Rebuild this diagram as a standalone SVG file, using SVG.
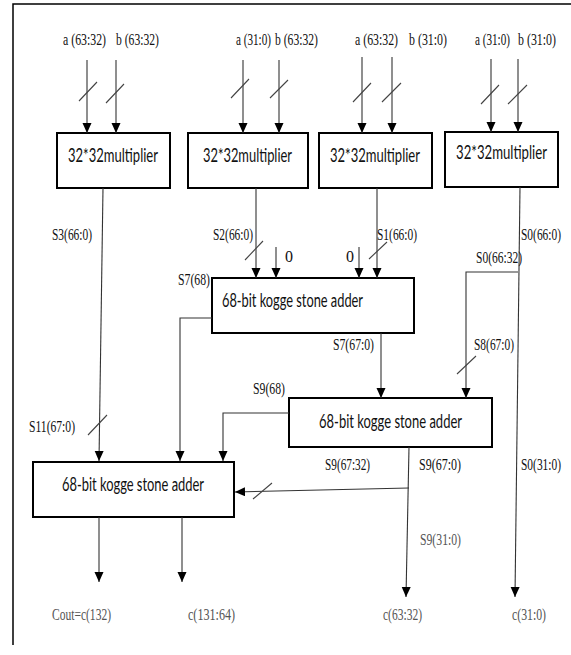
<svg xmlns="http://www.w3.org/2000/svg" width="571" height="655" viewBox="0 0 571 655">
<style>
.box{fill:#fff;stroke:#000;stroke-width:2}
.ln{fill:none;stroke:#333;stroke-width:1.1}
.ar{marker-end:url(#ah)}
.sl{fill:none;stroke:#444;stroke-width:1.1}
.lb{font-family:"Liberation Serif",serif;font-size:16px;fill:#111}
.fd{fill:#555}
.bt{font-family:Lato,"Liberation Sans",sans-serif;font-size:18.5px;fill:#111}
</style>
<defs>
<marker id="ah" markerUnits="userSpaceOnUse" markerWidth="10" markerHeight="10" refX="10" refY="4.5" orient="auto">
<path d="M0,0 L10,4.5 L0,9 z" fill="#000"/>
</marker>
</defs>
<rect width="571" height="655" fill="#fff"/>
<path d="M13,645 V4 H571" fill="none" stroke="#000" stroke-width="1.5"/>

<g id="inputs">
<text class="lb" x="63" y="45" textLength="43" lengthAdjust="spacingAndGlyphs">a (63:32)</text>
<text class="lb" x="116" y="45" textLength="43" lengthAdjust="spacingAndGlyphs">b (63:32)</text>
<text class="lb" x="236" y="45" textLength="35" lengthAdjust="spacingAndGlyphs">a (31:0)</text>
<text class="lb" x="275" y="45" textLength="43" lengthAdjust="spacingAndGlyphs">b (63:32)</text>
<text class="lb" x="355" y="45" textLength="43" lengthAdjust="spacingAndGlyphs">a (63:32)</text>
<text class="lb" x="409" y="45" textLength="38" lengthAdjust="spacingAndGlyphs">b (31:0)</text>
<text class="lb" x="475" y="45" textLength="35" lengthAdjust="spacingAndGlyphs">a (31:0)</text>
<text class="lb" x="518" y="45" textLength="38" lengthAdjust="spacingAndGlyphs">b (31:0)</text>
</g>

<g id="mult1"><rect class="box" x="57" y="133" width="113" height="55"/>
<text class="bt" x="68" y="162" textLength="90" lengthAdjust="spacingAndGlyphs">32*32multiplier</text></g>
<g id="mult2"><rect class="box" x="188" y="133" width="120" height="55"/>
<text class="bt" x="203" y="162" textLength="89" lengthAdjust="spacingAndGlyphs">32*32multiplier</text></g>
<g id="mult3"><rect class="box" x="319" y="133" width="113" height="55"/>
<text class="bt" x="330" y="162" textLength="90" lengthAdjust="spacingAndGlyphs">32*32multiplier</text></g>
<g id="mult4"><rect class="box" x="445" y="132" width="113" height="55"/>
<text class="bt" x="456" y="159" textLength="91" lengthAdjust="spacingAndGlyphs">32*32multiplier</text></g>

<g id="adder1"><rect class="box" x="212" y="278" width="202" height="55"/>
<text class="bt" x="222" y="307" textLength="141" lengthAdjust="spacingAndGlyphs">68-bit kogge stone adder</text></g>
<g id="adder2"><rect class="box" x="289" y="398" width="203" height="49"/>
<text class="bt" x="319" y="428" textLength="143" lengthAdjust="spacingAndGlyphs">68-bit kogge stone adder</text></g>
<g id="adder3"><rect class="box" x="33" y="462" width="201" height="55"/>
<text class="bt" x="62" y="491" textLength="142" lengthAdjust="spacingAndGlyphs">68-bit kogge stone adder</text></g>

<g id="connectors">
<path class="ln ar" d="M87,60 V133"/>
<path class="ln ar" d="M116,60 V133"/>
<path class="ln ar" d="M243,60 V133"/>
<path class="ln ar" d="M279,60 V133"/>
<path class="ln ar" d="M362,57 V133"/>
<path class="ln ar" d="M392,57 V133"/>
<path class="ln ar" d="M491,59 V132"/>
<path class="ln ar" d="M518,59 V132"/>
<path class="sl" d="M79,101 L97,82 M106,103 L124,84 M231,98 L249,79 M270,98 L288,80 M353,102 L371,83 M382,102 L401,83 M481,104 L499,85 M508,104 L527,85"/>

<path class="ln ar" d="M103,188 L99,461"/>
<path class="ln ar" d="M256,188 V278"/>
<path class="ln ar" d="M276,247 V278"/>
<path class="ln ar" d="M377,188 V278"/>
<path class="ln ar" d="M359,247 V278"/>
<path class="ln ar" d="M520,187 L515,597"/>
<path class="ln ar" d="M518,272 H466 V398"/>
<path class="ln ar" d="M212,318 H180 V461"/>
<path class="ln ar" d="M381,333 V398"/>
<path class="ln ar" d="M289,413 H223 V461"/>
<path class="ln ar" d="M409,447 L406,597"/>
<path class="ln ar" d="M409,488 L235,492"/>
<path class="ln ar" d="M99,517 V582"/>
<path class="ln ar" d="M182,517 V582"/>
<path class="sl" d="M245,260 L263,241 M369,259 L387,242 M457,374 L476,356 M88,435 L107,415 M253,499 L272,483"/>
</g>

<g id="labels">
<text class="lb" x="52" y="240" textLength="40" lengthAdjust="spacingAndGlyphs">S3(66:0)</text>
<text class="lb" x="213" y="240" textLength="40" lengthAdjust="spacingAndGlyphs">S2(66:0)</text>
<text class="lb" x="377" y="240" textLength="40" lengthAdjust="spacingAndGlyphs">S1(66:0)</text>
<text class="lb" x="521" y="240" textLength="40" lengthAdjust="spacingAndGlyphs">S0(66:0)</text>
<text class="lb" x="285" y="262">0</text>
<text class="lb" x="346" y="262">0</text>
<text class="lb" x="476" y="263" textLength="46" lengthAdjust="spacingAndGlyphs">S0(66:32)</text>
<text class="lb" x="178" y="285" textLength="32" lengthAdjust="spacingAndGlyphs">S7(68)</text>
<text class="lb" x="333" y="350" textLength="41" lengthAdjust="spacingAndGlyphs">S7(67:0)</text>
<text class="lb" x="474" y="350" textLength="40" lengthAdjust="spacingAndGlyphs">S8(67:0)</text>
<text class="lb" x="253" y="394" textLength="32" lengthAdjust="spacingAndGlyphs">S9(68)</text>
<text class="lb" x="29" y="432" textLength="46" lengthAdjust="spacingAndGlyphs">S11(67:0)</text>
<text class="lb" x="325" y="470" textLength="45" lengthAdjust="spacingAndGlyphs">S9(67:32)</text>
<text class="lb" x="419" y="470" textLength="42" lengthAdjust="spacingAndGlyphs">S9(67:0)</text>
<text class="lb" x="521" y="470" textLength="40" lengthAdjust="spacingAndGlyphs">S0(31:0)</text>
<text class="lb fd" x="420" y="545" textLength="41" lengthAdjust="spacingAndGlyphs">S9(31:0)</text>
<text class="lb fd" x="52" y="620" textLength="59" lengthAdjust="spacingAndGlyphs">Cout=c(132)</text>
<text class="lb fd" x="188" y="620" textLength="47" lengthAdjust="spacingAndGlyphs">c(131:64)</text>
<text class="lb fd" x="383" y="620" textLength="39" lengthAdjust="spacingAndGlyphs">c(63:32)</text>
<text class="lb fd" x="512" y="620" textLength="34" lengthAdjust="spacingAndGlyphs">c(31:0)</text>
</g>
</svg>
